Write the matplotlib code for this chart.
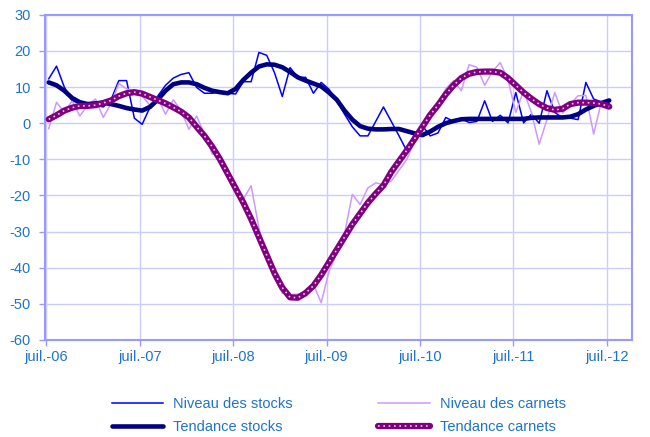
import matplotlib.pyplot as plt

plt.rcParams['font.family'] = ['Liberation Sans', 'DejaVu Sans']
plt.rcParams['axes.unicode_minus'] = False

# monthly data, juil.-06 to juil.-12
stocks_niveau = [12.3, 15.8, 10, 6.2, 5.5, 5.5, 5, 4.5, 6.5, 11.8, 11.8, 1.4,
                 -0.3, 4.4, 7.5, 10.5, 12.5, 13.5, 14, 9.9, 8.3, 8.3, 8.7, 8.3,
                 8.1, 11.5, 11.5, 19.6, 18.8, 14, 7.4, 15.4, 12.7, 12.7, 8.3, 11.3,
                 9.4, 6.2, 2.5, -1, -3.5, -3.5, 0.5, 4.5, 0.5, -3.5, -7.7, -3,
                 -0.7, -3.5, -2.7, 1.6, 0.5, 1.2, 0.2, 0.5, 6.2, 0.5, 2.2, 0.1,
                 8.5, 0.1, 2.5, 0, 9, 3, 1.5, 1.4, 1.0, 11.3, 6.7, 5.9, 5.5]
stocks_tendance = [11.3, 10.5, 9, 7, 5.8, 5.3, 5.5, 5.7, 5.3, 4.8, 4.2, 3.8,
                   3.5, 4.5, 6.5, 9, 10.8, 11.3, 11.3, 10.8, 9.8, 9, 8.6, 8.3,
                   9.5, 12, 14, 15.7, 16.3, 16.2, 15.5, 14.2, 12.7, 11.8, 11, 10.2,
                   8.5, 6.5, 3.5, 1, -0.8, -1.5, -1.7, -1.7, -1.6, -1.6, -2.2, -2.8,
                   -3.3, -2.3, -1, 0, 0.6, 1.1, 1.2, 1.2, 1.2, 1.2, 1.2, 1.2,
                   1.2, 1.2, 1.5, 1.6, 1.6, 1.6, 1.6, 1.8, 2.5, 3.8, 4.8, 5.6, 6.3]
carnets_niveau = [-1.5, 5.8, 3, 6.2, 2, 5, 6.7, 1.6, 5.5, 11, 9.5, 9,
                  7.5, 5, 7.2, 2.5, 6.5, 3.5, -1.7, 2, -3, -8.5, -9, -13,
                  -17.5, -21, -17.3, -29, -37, -43, -47, -47.5, -47.3, -48, -44.6, -49.7,
                  -41, -36, -30.5, -19.7, -22.5, -17.9, -16.5, -17, -16, -13, -10, -5,
                  -1, 1.5, 5, 9.5, 11.8, 9, 16.2, 15.5, 10.5, 14.3, 16.8, 12,
                  3, 9, 3, -5.8, 1, 8.5, 2.8, 5.3, 7.6, 7.7, -3, 6, 4.4]
carnets_tendance = [1.1, 2.2, 3.5, 4.3, 4.8, 4.8, 5, 5.6, 6.3, 7.5, 8.3, 8.6,
                    8.2, 7.3, 6.4, 5.5, 4.4, 3.2, 1.6, -1, -3.5, -6.5, -10, -14,
                    -18, -22, -26.5, -31.5, -36.5, -41.5, -45.5, -48.2, -48.3, -47, -45, -42,
                    -38.5, -35, -31.5, -28, -25, -22, -19.5, -17.2, -13.5, -10.5, -7.5, -4.3,
                    -1, 2.3, 5, 8, 10.5, 12.5, 13.7, 14.2, 14.3, 14.3, 14, 12.5,
                    10.5, 8.5, 6.8, 5.3, 4.2, 3.7, 4, 5.3, 5.7, 5.7, 5.6, 5.3, 4.6]
tick_labels = ['juil.-06', 'juil.-07', 'juil.-08', 'juil.-09', 'juil.-10', 'juil.-11', 'juil.-12']

months = [i + 0.3 for i in range(len(stocks_niveau))]

text_col = '#1F73CC'
grid_col = '#CCCCFF'
axis_col = '#9999FF'
fs = 10.5

fig, ax = plt.subplots(figsize=(6.5, 4.37), dpi=100)
fig.subplots_adjust(left=0.069, right=0.972, top=0.966, bottom=0.222)

l1, = ax.plot(months, stocks_niveau, color='#0000FF', lw=1.1, zorder=3)
l3, = ax.plot(months, carnets_niveau, color='#CC99FF', lw=1.1, zorder=3)
l2, = ax.plot(months, stocks_tendance, color='#000080', lw=3.3, solid_capstyle='round', zorder=4)
l4a, = ax.plot(months, carnets_tendance, color='#800080', lw=4.5, solid_capstyle='round', zorder=5)
l4b, = ax.plot(months, carnets_tendance, color='#E8C8E8', lw=1.2, linestyle=(0, (1, 2.2)), zorder=6)

ax.set_xlim(-0.2, 75.2)
ax.set_ylim(-60, 30)
ax.set_yticks(range(-60, 31, 10))
ax.set_xticks(range(0, 73, 12))
ax.set_xticklabels(tick_labels)
ax.grid(True, color=grid_col, lw=1)
ax.set_axisbelow(True)
for s in ax.spines.values():
    s.set_color(axis_col)
    s.set_linewidth(1.5)
ax.tick_params(colors=axis_col, labelcolor=text_col, labelsize=fs, length=4, width=1)
ax.tick_params(axis='y', pad=6)

leg = fig.legend([l1, l2, l3, (l4a, l4b)],
                 ['Niveau des stocks', 'Tendance stocks', 'Niveau des carnets', 'Tendance carnets'],
                 ncol=2, loc='lower center', bbox_to_anchor=(0.521, 0.0), frameon=False,
                 fontsize=fs, handlelength=3.5, handletextpad=0.7, columnspacing=5.9,
                 labelspacing=0.65, borderaxespad=0, borderpad=0.2)
for t in leg.get_texts():
    t.set_color(text_col)

plt.savefig('out.png')
